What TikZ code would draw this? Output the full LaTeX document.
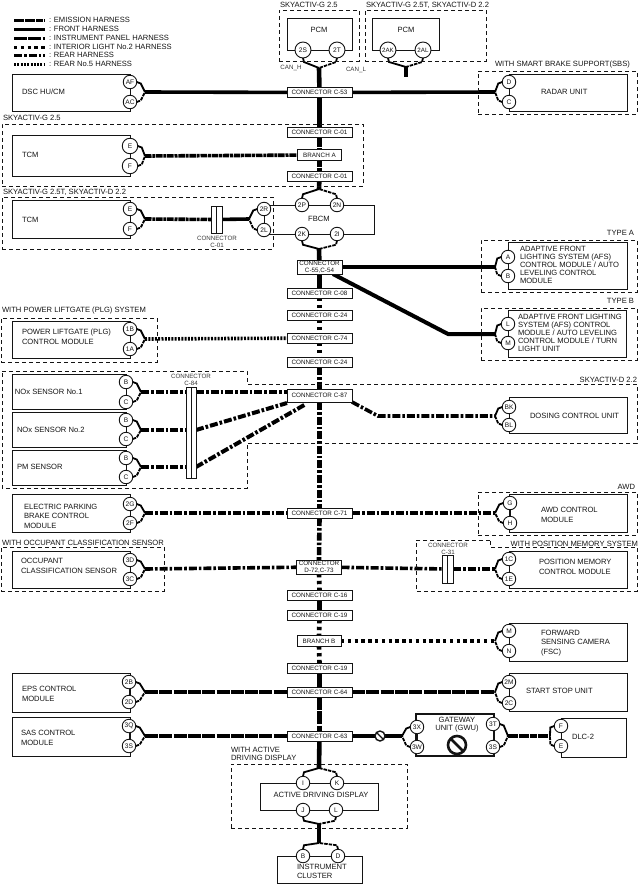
\documentclass[tikz,border=0pt]{standalone}
\usepackage{fontspec}
\setmainfont{Liberation Sans}
\usetikzlibrary{backgrounds}
\definecolor{ink}{gray}{0.08}
\tikzset{
  txt/.style={anchor=west,inner sep=0pt,outer sep=0pt,align=left,text=ink,font=\fontsize{7.6}{9.5}\selectfont},
  txttight/.style={txt,font=\fontsize{7.6}{8}\selectfont},
  small/.style={inner sep=0pt,outer sep=0pt,align=center,text=ink!85,font=\fontsize{6.2}{7}\selectfont},
  unitbox/.style={draw=ink,line width=0.9pt,inner sep=0pt,outer sep=0pt},
  region/.style={draw=ink,line width=0.8pt,dash pattern=on 4pt off 3pt},
  pin/.style={circle,draw=ink,line width=0.9pt,fill=white,inner sep=0pt,outer sep=0pt,minimum size=13.5pt,text=ink,font=\fontsize{6.6}{7}\selectfont},
  conn/.style={draw=ink,line width=0.9pt,fill=white,inner sep=0pt,outer sep=0pt,minimum width=65pt,minimum height=10pt,text=ink,font=\fontsize{6.3}{7}\selectfont},
  conntwo/.style={conn,minimum width=45pt,minimum height=14pt,align=center},
  branch/.style={conn,minimum width=44pt,minimum height=10.5pt},
  bar/.style={draw=ink,line width=0.8pt,fill=white,inner sep=0pt,outer sep=0pt},
  tie/.style={draw=ink,line width=0.8pt},
  forkwire/.style={draw=black,line width=1.8pt,line join=miter},
  forkdash/.style={forkwire,dash pattern=on 3.5pt off 1pt},
  emission/.style={draw=black,line width=3.6pt,dash pattern=on 6.5pt off 0.8pt on 3pt off 0.8pt},
  frontw/.style={draw=black,line width=3.6pt},
  ipw/.style={draw=black,line width=3.6pt,dash pattern=on 13pt off 1.3pt},
  interiorw/.style={draw=black,line width=3.6pt,dash pattern=on 3.4pt off 3.4pt},
  rearw/.style={draw=black,line width=3.6pt,dash pattern=on 8pt off 2pt on 2.6pt off 2pt},
  rearfive/.style={draw=black,line width=3.6pt,dash pattern=on 2pt off 1.3pt},
  trunk/.style={line width=4.6pt},
  nosign/.style={circle,draw=ink,fill=white,inner sep=0pt,outer sep=0pt},
}
\newcommand{\ubox}[6][]{\node[unitbox,#1,minimum width={(#4-#2)*1pt},minimum height={(#5-#3)*1pt}] (#6) at ({(#2+#4)/2},{(#3+#5)/2}) {};}
\newcommand{\forkE}[3]{\draw[forkwire] (#1.east) -- ++(4,1.5) -- (#3);\draw[forkdash] (#2.east) -- ++(4,-1.5) -- (#3);}
\newcommand{\forkW}[3]{\draw[forkwire] (#1.west) -- ++(-4,1.5) -- (#3);\draw[forkdash] (#2.west) -- ++(-4,-1.5) -- (#3);}
\newcommand{\forkS}[3]{\draw[forkwire] (#1.south) -- ++(1,4) -- (#3);\draw[forkdash] (#2.south) -- ++(-1,4) -- (#3);}
\newcommand{\forkN}[3]{\draw[forkwire] (#1.north) -- ++(1,-4) -- (#3);\draw[forkdash] (#2.north) -- ++(-1,-4) -- (#3);}
\begin{document}
\begin{tikzpicture}[x=1pt,y=-1pt]
\useasboundingbox (0,0) rectangle (640,884);
% ---------- legend
\foreach \n/\st/\y in {1/emission/20,2/frontw/29,3/ipw/38,4/interiorw/47,5/rearw/55,6/rearfive/64}{
  \coordinate (la\n) at (14,\y);
  \coordinate (lb\n) at (45,\y);
  \draw[\st,line width=3pt] (la\n) -- (lb\n);
}
\node[txt] (lt1) at (49,20) {: EMISSION HARNESS};
\node[txt] (lt2) at (49,29) {: FRONT HARNESS};
\node[txt] (lt3) at (49,38) {: INSTRUMENT PANEL HARNESS};
\node[txt] (lt4) at (49,47) {: INTERIOR LIGHT No.2 HARNESS};
\node[txt] (lt5) at (49,55) {: REAR HARNESS};
\node[txt] (lt6) at (49,64) {: REAR No.5 HARNESS};
% ---------- region frames and their titles
\ubox[region]{279}{10}{359}{61}{rPcmA}
\ubox[region]{365}{10}{486}{61}{rPcmB}
\ubox[region]{478}{71}{637}{114}{rRadar}
\ubox[region]{2}{124}{363}{186}{rTcmA}
\ubox[region]{2}{197}{273}{249}{rTcmB}
\ubox[region]{481}{240}{637}{292}{rTypeA}
\ubox[region]{481}{308}{637}{360}{rTypeB}
\ubox[region]{1}{318}{157}{362}{rPlg}
\draw[region] (2,371) -- (247,371) -- (247,384) -- (637,384) -- (637,443) -- (247,443) -- (247,488) -- (2,488) -- cycle;
\ubox[region]{478}{492}{637}{535}{rAwd}
\ubox[region]{1}{547}{164}{591}{rOcc}
\draw[region] (490,540) -- (416,540) -- (416,591) -- (637,591) -- (637,547) -- (490,547) -- cycle;
\ubox[region]{231}{764}{407}{828}{rAdd}
\node[txt] (tA) at (280,5) {SKYACTIV-G 2.5};
\node[txt] (tB) at (366,5) {SKYACTIV-G 2.5T, SKYACTIV-D 2.2};
\node[txt] (tC) at (495,65) {WITH SMART BRAKE SUPPORT(SBS)};
\node[txt] (tD) at (3,118) {SKYACTIV-G 2.5};
\node[txt] (tE) at (3,192) {SKYACTIV-G 2.5T, SKYACTIV-D 2.2};
\node[txt,anchor=east] (tF) at (634,233) {TYPE A};
\node[txt,anchor=east] (tG) at (634,301) {TYPE B};
\node[txt] (tH) at (2,311) {WITH POWER LIFTGATE (PLG) SYSTEM};
\node[txt,anchor=east] (tI) at (637,380) {SKYACTIV-D 2.2};
\node[txt,anchor=east] (tJ) at (635,487) {AWD};
\node[txt] (tK) at (2,543) {WITH OCCUPANT CLASSIFICATION SENSOR};
\node[txt,anchor=east] (tL) at (638,544) {WITH POSITION MEMORY SYSTEM};
\node[txttight] (tM) at (231,754) {WITH ACTIVE\\DRIVING DISPLAY};
% ---------- units
\ubox{287}{18}{352}{50}{pcmA}
\ubox{372}{18}{439}{50}{pcmB}
\ubox{12}{74}{130}{111}{dsc}
\ubox{509}{74}{627}{111}{radar}
\ubox{12}{135}{130}{176}{tcmA}
\ubox{12}{200}{130}{238}{tcmB}
\ubox{264}{205}{374}{234}{fbcm}
\ubox{508}{242}{627}{289}{afsA}
\ubox{508}{310}{626}{357}{afsB}
\ubox{12}{321}{130}{358}{plg}
\ubox{12}{374}{126}{409}{noxA}
\ubox{12}{412}{126}{447}{noxB}
\ubox{12}{450}{126}{485}{pm}
\ubox{509}{397}{627}{433}{dcu}
\ubox{12}{494}{130}{532}{epb}
\ubox{509}{494}{627}{532}{awd}
\ubox{12}{551}{130}{588}{occ}
\ubox{509}{551}{627}{588}{pos}
\ubox{509}{623}{627}{661}{fsc}
\ubox{12}{673}{130}{712}{eps}
\ubox{509}{673}{627}{711}{ssu}
\ubox{12}{717}{130}{756}{sas}
\ubox[line width=1.5pt]{416}{714}{494}{756}{gwu}
\ubox{561}{718}{626}{757}{dlc}
\ubox{260}{783}{378}{810}{add}
\ubox{277}{856}{362}{883.5}{ic}
\node[txt] (nA) at (22,92) {DSC HU/CM};
\node[txt] (nB) at (541,92) {RADAR UNIT};
\node[txt] (nC) at (22,155) {TCM};
\node[txt] (nD) at (22,220) {TCM};
\node[txt,anchor=center] (nE) at (319,219) {FBCM};
\node[txt,anchor=center] (nF) at (319,30) {PCM};
\node[txt,anchor=center] (nG) at (406,30) {PCM};
\node[txttight] (nH) at (520,265) {ADAPTIVE FRONT\\LIGHTING SYSTEM (AFS)\\CONTROL MODULE / AUTO\\LEVELING CONTROL\\MODULE};
\node[txttight] (nI) at (518,333) {ADAPTIVE FRONT LIGHTING\\SYSTEM (AFS) CONTROL\\MODULE / AUTO LEVELING\\CONTROL MODULE / TURN\\LIGHT UNIT};
\node[txt] (nJ) at (22,337) {POWER LIFTGATE (PLG)\\CONTROL MODULE};
\node[txt] (nK) at (15,392) {NOx SENSOR No.1};
\node[txt] (nL) at (17,430) {NOx SENSOR No.2};
\node[txt] (nM) at (17,467) {PM SENSOR};
\node[txt] (nN) at (530,416) {DOSING CONTROL UNIT};
\node[txt] (nO) at (24,516) {ELECTRIC PARKING\\BRAKE CONTROL\\MODULE};
\node[txt] (nP) at (541,515) {AWD CONTROL\\MODULE};
\node[txt] (nQ) at (21,566) {OCCUPANT\\CLASSIFICATION SENSOR};
\node[txt] (nR) at (539,567) {POSITION MEMORY\\CONTROL MODULE};
\node[txt] (nS) at (541,643) {FORWARD\\SENSING CAMERA\\(FSC)};
\node[txt] (nT) at (22,694) {EPS CONTROL\\MODULE};
\node[txt] (nU) at (526,691) {START STOP UNIT};
\node[txt] (nV) at (21,738) {SAS CONTROL\\MODULE};
\node[txttight,anchor=center,align=center] (nW) at (457,725) {GATEWAY\\UNIT (GWU)};
\node[txt,anchor=center] (nX) at (583,737) {DLC-2};
\node[txt,anchor=center] (nY) at (321,795) {ACTIVE DRIVING DISPLAY};
\node[txt] (nZ) at (297,871.5) {INSTRUMENT\\CLUSTER};
\node[small] (canH) at (291,68) {CAN\_H};
\node[small] (canL) at (356,70) {CAN\_L};
% ---------- connectors on the trunk
\node[conn] (c53) at (319.5,92.5) {CONNECTOR C-53};
\node[conn] (c01a) at (319.5,132) {CONNECTOR C-01};
\node[branch] (bra) at (319.5,155) {BRANCH A};
\node[conn] (c01b) at (319.5,176.5) {CONNECTOR C-01};
\node[conntwo] (c55) at (319.5,267) {CONNECTOR\\C-55,C-54};
\node[conn] (c08) at (319.5,293) {CONNECTOR C-08};
\node[conn] (c24a) at (319.5,315) {CONNECTOR C-24};
\node[conn] (c74) at (319.5,338) {CONNECTOR C-74};
\node[conn] (c24b) at (319.5,362) {CONNECTOR C-24};
\node[conn,minimum height=13pt] (c87) at (319.5,395.5) {CONNECTOR C-87};
\node[conn] (c71) at (319.5,513) {CONNECTOR C-71};
\node[conntwo] (c72) at (319,567) {CONNECTOR\\D-72,C-73};
\node[conn] (c16) at (319.5,595) {CONNECTOR C-16};
\node[conn] (c19a) at (319.5,615) {CONNECTOR C-19};
\node[branch] (brb) at (319,641) {BRANCH B};
\node[conn] (c19b) at (319.5,668) {CONNECTOR C-19};
\node[conn] (c64) at (319.5,692) {CONNECTOR C-64};
\node[conn] (c63) at (319.5,736) {CONNECTOR C-63};
% ---------- inline connectors
\node[bar,minimum width=11pt,minimum height=27pt] (c01c) at (216.5,219.5) {};
\draw[tie] (c01c.north) -- (c01c.south);
\node[small] (c01t) at (217,241.5) {CONNECTOR\\C-01};
\node[bar,minimum width=10pt,minimum height=91pt] (c84) at (191,432.5) {};
\draw[tie] (c84.north) -- (c84.south);
\node[small] (c84t) at (191,379.5) {CONNECTOR\\C-84};
\node[bar,minimum width=11pt,minimum height=28pt] (c31) at (447.5,569) {};
\draw[tie] (c31.north) -- (c31.south);
\node[small] (c31t) at (448,548.5) {CONNECTOR\\C-31};
% ---------- pins
\foreach \nm/\lb/\x/\y in {
  pAF/AF/130/82,pAC/AC/130/102,pD/D/509/82,pC/C/509/102,
  pUE/E/130/209,pUF/F/130/229,pA/A/508/257,pB/B/508/276,pL/L/508/324,pM/M/508/343,
  p1B/1B/130/329,p1A/1A/130/349,
  pNa/B/126/382,pNb/C/126/402,pNc/B/126/420,pNd/C/126/439,pNe/B/126/458,pNf/C/126/477,
  pBK/BK/509/407,pBL/BL/509/425,p2G/2G/130/504,p2F/2F/130/523,pG/G/510/503,pH/H/510/523,
  p3D/3D/130/560,p3C/3C/130/579,p1C/1C/509/559,p1E/1E/509/579,
  pFM/M/509/631,pFN/N/509/651,p2B/2B/129/682,p2D/2D/129/702,p2M/2M/509/682,p2C/2C/509/703,
  p3Q/3Q/129/726,p3Sb/3S/129/746,p3X/3X/417/727,p3W/3W/417/747,p3T/3T/493/724,p3Sc/3S/493/747,
  pDF/F/561/726,pDE/E/561/746,
  pI/I/303/783,pK/K/337/783,pJ/J/303/810,pL2/L/336/810,pIB/B/303/856,pID/D/338/856,
  pR/2R/264/209,pLL/2L/264/230,pP/2P/302/205,pN/2N/337/205,pK2/2K/302/234,pI2/2I/337/234
  }{\node[pin] (\nm) at (\x,\y) {\lb};}
\node[pin,minimum size=15.5pt] (pTE) at (130,146) {E};
\node[pin,minimum size=15.5pt] (pTF) at (130,166) {F};
\node[pin,minimum size=16pt] (p2S) at (303,50) {2S};
\node[pin,minimum size=16pt] (p2T) at (337,50) {2T};
\node[pin,font=\fontsize{6.2}{7}\selectfont,minimum size=16pt] (pAK) at (388,50) {2AK};
\node[pin,font=\fontsize{6.2}{7}\selectfont,minimum size=16pt] (pAL) at (423,50) {2AL};
% ---------- no-communication signs
\node[nosign,line width=1.4pt,minimum size=10pt] (noA) at (380,736) {};
\draw[ink,line width=1.2pt] (noA.135) -- (noA.-45);
\node[nosign,line width=2.6pt,minimum size=18pt] (noB) at (457,745) {};
\draw[ink,line width=2.6pt] (noB.135) -- (noB.-45);
% ---------- fork points
\foreach \nm/\x/\y in {fPcm/319/68,fPcmB/406/67,fDsc/145/92,fRad/495/92,fTcmA/145/156,fTcmB/145/219,fFr/249/219,
  fTop/319/189,fBot/319/249,fA/495/267,fB/495/334,kB/448/334,fPlg/145/339,fNa/141/392,fNb/141/430,fNc/141/467,
  fDcu/495/416,kD/378/416,fEpb/145/513,fAwd/495/513,fOcc/145/569,fPos/495/569,fFsc/495/641,fSsu/495/692,fEps/145/692,
  fSas/145/736,fGl/402/736,fGr/508/736,fDlc/550/736,fAt/319/768,fAb/319/824,fIc/319/843,eP/406/77,eNb/287/403,eNc/306/404}
  {\coordinate (\nm) at (\x,\y);}
% ---------- wiring, behind the nodes
\begin{pgfonlayer}{background}
  % trunk
  \draw[frontw,trunk] (fPcm) -- (c53);
  \draw[frontw,trunk] (c53) -- (c01a);
  \draw[emission,trunk] (c01a.south) -- (bra.north);
  \draw[emission,trunk] (bra.south) -- (c01b.north);
  \draw[frontw,trunk] (c01b) -- (fTop);
  \draw[frontw,trunk] (fBot) -- (c55);
  \draw[frontw,trunk] (c55) -- (c08);
  \draw[interiorw,trunk] (c08.south) -- (c24a.north);
  \draw[interiorw,trunk] (c24a.south) -- (c74.north);
  \draw[interiorw,trunk] (c74.south) -- (c24b.north);
  \draw[rearw,trunk] (c24b.south) -- (c87.north);
  \draw[rearw,trunk] (c87.south) -- (c71.north);
  \draw[rearw,trunk] (c71.south) -- (c72.north);
  \draw[interiorw,trunk] (c72.south) -- (c16.north);
  \draw[frontw,trunk] (c16) -- (c19a);
  \draw[interiorw,trunk] (c19a.south) -- (brb.north);
  \draw[interiorw,trunk] (brb.south) -- (c19b.north);
  \draw[frontw,trunk] (c19b) -- (c64);
  \draw[ipw,trunk] (c64.south) -- (c63.north);
  \draw[frontw,trunk] (c63) -- (fAt);
  \draw[frontw,trunk] (fAb) -- (fIc);
  \draw[frontw,trunk] (fPcmB) -- (eP);
  % branches
  \draw[frontw] (fDsc) -- (c53);
  \draw[frontw] (c53) -- (fRad);
  \draw[emission] (fTcmA) -- (bra);
  \draw[emission] (fTcmB) -- (c01c);
  \draw[frontw] (c01c) -- (fFr);
  \draw[frontw] (c55) -- (fA);
  \draw[frontw,line width=4pt,line join=miter] (c55) -- (kB) -- (fB);
  \draw[rearfive] (fPlg) -- (c74);
  \draw[rearw] (fNa) -- (c84.west |- fNa);
  \draw[rearw] (fNb) -- (c84.west |- fNb);
  \draw[rearw] (fNc) -- (c84.west |- fNc);
  \draw[rearw] (c84.east |- fNa) -- (c87.west |- fNa);
  \draw[rearw,line width=4pt] (c84.east |- fNb) -- (eNb);
  \draw[rearw,line width=4pt] (c84.east |- fNc) -- (eNc);
  \draw[rearw] (c87.south east) -- (kD) -- (fDcu);
  \draw[rearw] (fEpb) -- (c71);
  \draw[rearw] (c71) -- (fAwd);
  \draw[rearw] (fOcc) -- (c72);
  \draw[rearw] (c72) -- (c31);
  \draw[rearw] (c31) -- (fPos);
  \draw[interiorw] (brb) -- (fFsc);
  \draw[ipw] (c64) -- (fSsu);
  \draw[ipw] (fEps) -- (c64);
  \draw[ipw] (fSas) -- (c63);
  \draw[frontw] (c63) -- (fGl);
  \draw[emission] (fGr) -- (fDlc);
  % pin forks
  \forkS{p2S}{p2T}{fPcm}
  \forkS{pAK}{pAL}{fPcmB}
  \forkE{pAF}{pAC}{fDsc}
  \forkW{pD}{pC}{fRad}
  \forkE{pTE}{pTF}{fTcmA}
  \forkE{pUE}{pUF}{fTcmB}
  \forkW{pR}{pLL}{fFr}
  \forkN{pP}{pN}{fTop}
  \forkS{pK2}{pI2}{fBot}
  \forkW{pA}{pB}{fA}
  \forkW{pL}{pM}{fB}
  \forkE{p1B}{p1A}{fPlg}
  \forkE{pNa}{pNb}{fNa}
  \forkE{pNc}{pNd}{fNb}
  \forkE{pNe}{pNf}{fNc}
  \forkW{pBK}{pBL}{fDcu}
  \forkE{p2G}{p2F}{fEpb}
  \forkW{pG}{pH}{fAwd}
  \forkE{p3D}{p3C}{fOcc}
  \forkW{p1C}{p1E}{fPos}
  \forkW{pFM}{pFN}{fFsc}
  \forkW{p2M}{p2C}{fSsu}
  \forkE{p2B}{p2D}{fEps}
  \forkE{p3Q}{p3Sb}{fSas}
  \forkW{p3X}{p3W}{fGl}
  \forkE{p3T}{p3Sc}{fGr}
  \forkW{pDF}{pDE}{fDlc}
  \forkN{pI}{pK}{fAt}
  \forkS{pJ}{pL2}{fAb}
  \forkN{pIB}{pID}{fIc}
  % ties between paired pins
  \foreach \a/\b in {pAF/pAC,pD/pC,pTE/pTF,pUE/pUF,pR/pLL,pA/pB,pL/pM,p1B/p1A,pNa/pNb,pNc/pNd,pNe/pNf,pBK/pBL,p2G/p2F,pG/pH,p3D/p3C,p1C/p1E,pFM/pFN,p2B/p2D,p2M/p2C,p3Q/p3Sb,p3X/p3W,p3T/p3Sc,pDF/pDE}
    {\draw[tie] (\a) -- (\b);}
\end{pgfonlayer}
\end{tikzpicture}
\end{document}
